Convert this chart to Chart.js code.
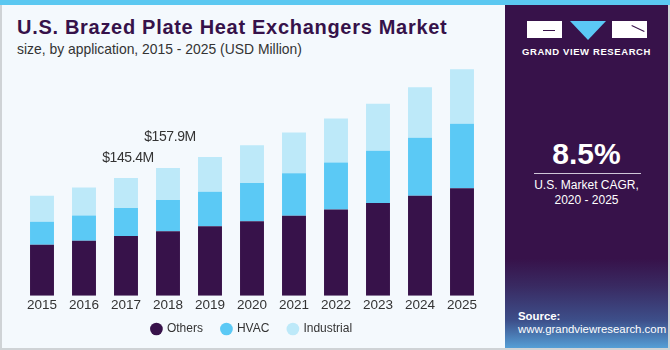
<!DOCTYPE html>
<html>
<head>
<meta charset="utf-8">
<script src="https://cdn.jsdelivr.net/npm/chart.js@4.4.1/dist/chart.umd.min.js"></script>
<style>
  html, body { margin: 0; padding: 0; }
  body { width: 670px; height: 350px; position: relative; overflow: hidden; background: #f4f9fd; font-family: "Liberation Sans", Arial, sans-serif; }
  .topbar { position: absolute; left: 0; top: 0; width: 670px; height: 5px; background: #5bc8f1; }
  .frame { position: absolute; left: 0; top: 5px; box-sizing: border-box; width: 670px; height: 345px; border-left: 2px solid #cfd3d6; border-right: 2px solid #cfd3d6; border-bottom: 2px solid #cfd3d6; }
  .title { position: absolute; left: 17px; top: 16px; font-size: 20px; font-weight: bold; color: #36124a; white-space: nowrap; letter-spacing: 0.7px; }
  .subtitle { position: absolute; left: 17px; top: 41px; font-size: 13.9px; color: #333; white-space: nowrap; }
  .chartbox { position: absolute; left: 0; top: 56px; width: 505px; height: 292px; }
  .panel { position: absolute; left: 505px; top: 5px; width: 163px; height: 343px;
    background: linear-gradient(180deg, #37124a 0%, #37124a 74%, #392a62 82%, #3d4f8a 92%, #559fd6 100%); }
  .logo { position: absolute; left: 22px; top: 16px; width: 120px; height: 19px; }
  .logo .g { position: absolute; left: 0; top: 0; width: 35px; height: 17px; background: #fff; }
  .logo .g:after { content: ""; position: absolute; left: 16px; top: 9px; width: 12px; height: 1px; background: #37124a; }
  .logo .v { position: absolute; left: 43px; top: 0; width: 0; height: 0; border-left: 18px solid transparent; border-right: 18px solid transparent; border-top: 19px solid #5bc8f5; }
  .logo .e { position: absolute; left: 85px; top: 0; width: 35px; height: 17px; background: #fff; }
  .logo .e:after { content: ""; position: absolute; left: 19px; top: 7px; width: 14px; height: 1px; background: #37124a; transform: rotate(25deg); }
  .brand { position: absolute; left: 0; width: 163px; top: 41px; text-align: center; color: #fff; font-size: 9.5px; font-weight: bold; letter-spacing: 0.6px; }
  .cagr { position: absolute; left: 0; width: 163px; top: 132px; text-align: center; color: #fff; font-size: 30px; font-weight: bold; }
  .rule { position: absolute; left: 29px; width: 107px; top: 168px; height: 1px; background: #cfc6d8; }
  .cagrtxt { position: absolute; left: 0; width: 163px; top: 173px; text-align: center; color: #fff; font-size: 12px; line-height: 15px; }
  .source { position: absolute; left: 13px; top: 305px; color: #fff; font-size: 11.4px; line-height: 13px; }
  .source b { font-weight: bold; }
</style>
</head>
<body>
<div class="topbar"></div>
<div class="frame"></div>
<div class="title">U.S. Brazed Plate Heat Exchangers Market</div>
<div class="subtitle">size, by application, 2015 - 2025 (USD Million)</div>
<div class="chartbox"><canvas id="marketChart" width="505" height="292"></canvas></div>
<div class="panel">
  <div class="logo"><div class="g"></div><div class="v"></div><div class="e"></div></div>
  <div class="brand">GRAND VIEW RESEARCH</div>
  <div class="cagr">8.5%</div>
  <div class="rule"></div>
  <div class="cagrtxt">U.S. Market CAGR,<br>2020 - 2025</div>
  <div class="source"><b>Source:</b><br>www.grandviewresearch.com</div>
</div>
<script>
// Data (USD Million)
const years = ['2015', '2016', '2017', '2018', '2019', '2020', '2021', '2022', '2023', '2024', '2025'];
const others = [62.9, 67.9, 73.8, 79.8, 85.9, 92.1, 98.8, 106.6, 114.6, 123.4, 132.9];
const hvac = [28.4, 31.3, 34.6, 38.4, 42.5, 47.0, 52.5, 58.0, 64.5, 71.6, 79.6];
const industrial = [32.1, 34.6, 37.0, 39.7, 42.9, 46.8, 50.4, 54.1, 58.0, 62.5, 67.1];
const callouts = [
    { index: 2, text: '$145.4M', lift: 20 },
    { index: 3, text: '$157.9M', lift: 31 }
];

const FONT = '"Liberation Sans", Arial, sans-serif';
const LEGEND_PULL = 10;

// Total labels above 2017 and 2018
const calloutPlugin = {
    id: 'callouts',
    afterDatasetsDraw(chart) {
        const ctx = chart.ctx;
        const top = chart.getDatasetMeta(2);
        ctx.save();
        ctx.font = '14px ' + FONT;
        ctx.letterSpacing = '-0.4px';
        ctx.fillStyle = '#333333';
        ctx.textAlign = 'center';
        ctx.textBaseline = 'middle';
        callouts.forEach(c => {
            const bar = top.data[c.index];
            ctx.fillText(c.text, bar.x + 2, bar.y - c.lift);
        });
        ctx.restore();
    }
};

// Legend sits closer to the axis labels than Chart.js would put it
const legendSpacing = {
    id: 'legendSpacing',
    beforeInit(chart) {
        const fit = chart.legend.fit;
        chart.legend.fit = function() {
            fit.call(this);
            this.height -= LEGEND_PULL;
        };
    },
    afterLayout(chart) {
        chart.legend.top -= LEGEND_PULL;
    }
};

const ctx = document.getElementById('marketChart').getContext('2d');
new Chart(ctx, {
    type: 'bar',
    data: {
        labels: years,
        datasets: [{
            label: 'Others',
            data: others,
            backgroundColor: '#37124a'
        }, {
            label: 'HVAC',
            data: hvac,
            backgroundColor: '#5bc9f5'
        }, {
            label: 'Industrial',
            data: industrial,
            backgroundColor: '#bde9f9'
        }]
    },
    options: {
        responsive: false,
        animation: false,
        barPercentage: 0.57,
        categoryPercentage: 1,
        layout: { padding: { left: 21, right: 22, top: 0, bottom: 3 } },
        scales: {
            x: {
                stacked: true,
                grid: { display: false, drawTicks: false },
                border: { display: false },
                ticks: { padding: 1, color: '#333333', font: { size: 13.5, family: FONT } }
            },
            y: {
                stacked: true,
                display: false,
                min: 0,
                max: 296
            }
        },
        plugins: {
            legend: {
                position: 'bottom',
                labels: {
                    usePointStyle: true,
                    pointStyle: 'circle',
                    boxWidth: 9,
                    boxHeight: 9,
                    padding: 19,
                    color: '#333333',
                    font: { size: 12, family: FONT }
                }
            },
            tooltip: { enabled: false }
        }
    },
    plugins: [calloutPlugin, legendSpacing]
});
</script>
</body>
</html>
